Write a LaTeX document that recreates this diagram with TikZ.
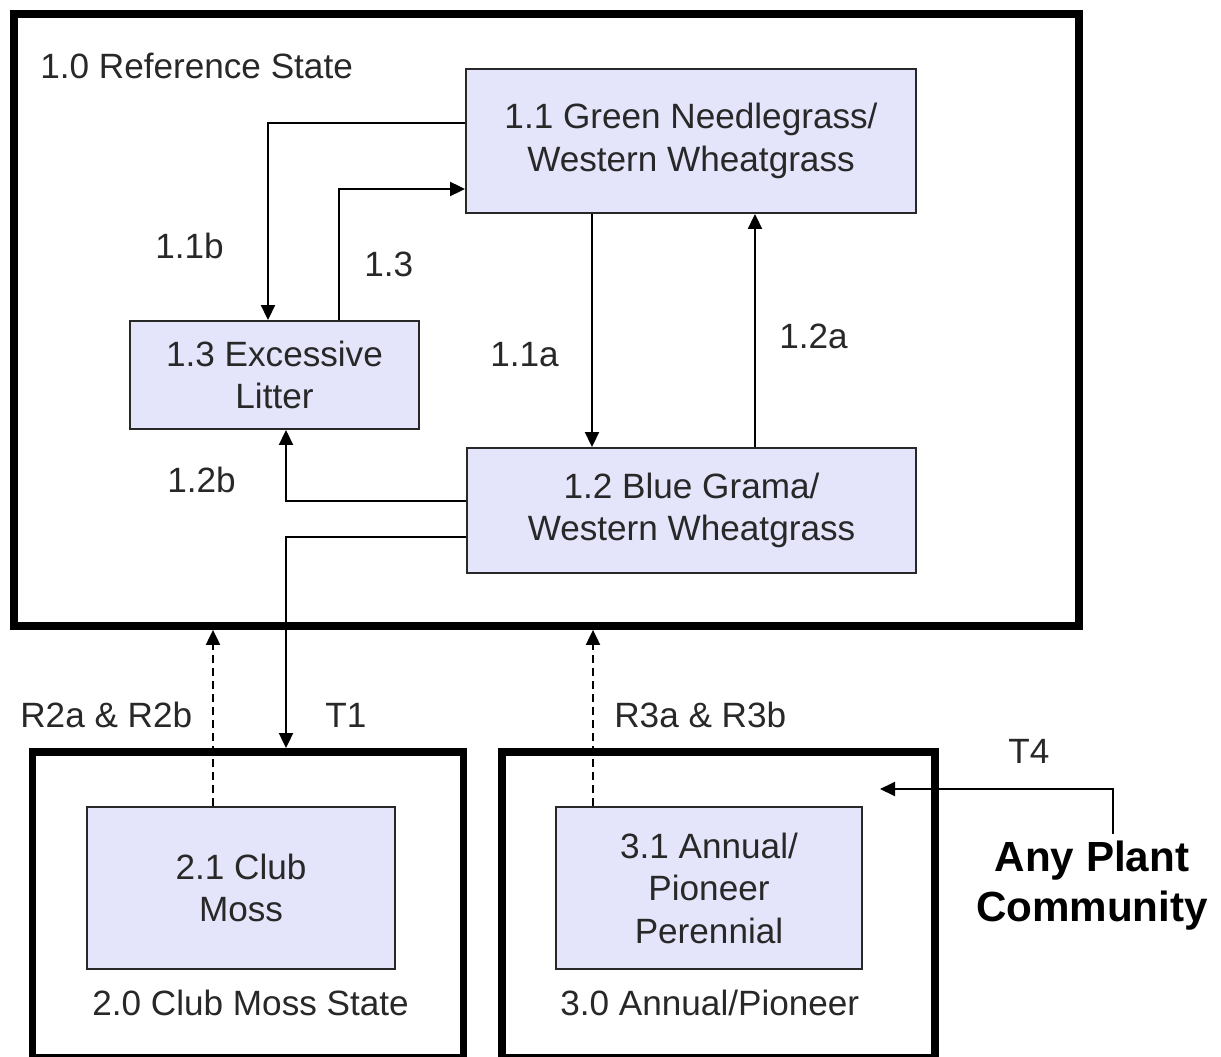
\documentclass[tikz,border=0pt]{standalone}
\usepackage{fontspec}
\setmainfont{Liberation Sans}
\usetikzlibrary{arrows.meta}
\definecolor{boxfill}{RGB}{228,228,250}
\definecolor{ink}{RGB}{40,40,40}
\begin{document}
\begin{tikzpicture}[x=0.02cm,y=-0.02cm,
  txt/.style={font=\fontsize{20}{24.2}\selectfont, text=ink},
  commbox/.style={draw=ink, line width=1.1pt, fill=boxfill, align=center, inner sep=0pt, txt},
  statebox/.style={draw=black, line width=4.5pt, inner sep=0pt},
  conn/.style={draw=black, line width=1.1pt, -{Triangle[length=0.3cm,width=0.28cm]}},
  dconn/.style={conn, dash pattern=on 0.16cm off 0.1cm},
  lbl/.style={txt, anchor=base west, inner sep=0pt},
  anyp/.style={font=\fontsize{24}{28.5}\selectfont\bfseries, align=center, inner sep=0.14cm},
]
\useasboundingbox[fill=white] (0,0) rectangle (1221,1057);

% state boxes
\node[statebox, minimum width=21.3cm, minimum height=12.24cm] (n10) at (546.5,320) {};
\node[statebox, minimum width=8.62cm, minimum height=6.12cm] (n20) at (248,905) {};
\node[statebox, minimum width=8.66cm, minimum height=6.12cm] (n30) at (718.5,905) {};

% community boxes
\node[commbox, minimum width=9cm, minimum height=2.88cm] (n11) at (691,141) {1.1 Green Needlegrass/\\Western Wheatgrass};
\node[commbox, minimum width=5.78cm, minimum height=2.16cm] (n13) at (274.5,375) {1.3 Excessive\\Litter};
\node[commbox, minimum width=8.98cm, minimum height=2.5cm] (n12) at (691.5,510.5) {1.2 Blue Grama/\\Western Wheatgrass};
\node[commbox, minimum width=6.16cm, minimum height=3.24cm] (n21) at (241,888) {2.1 Club\\Moss};
\node[commbox, minimum width=6.12cm, minimum height=3.24cm] (n31) at (709,888) {3.1 Annual/\\Pioneer\\Perennial};

\node[anyp] (any) at (1092,886) {Any Plant\\Community};
\coordinate (t4end) at (880,789);

% labels
\node[lbl] (l10) at (40,79) {1.0 Reference State};
\node[lbl] (l11b) at (155,259) {1.1b};
\node[lbl] (l13) at (364,277) {1.3};
\node[lbl] (l11a) at (490,367) {1.1a};
\node[lbl] (l12a) at (779,349) {1.2a};
\node[lbl] (l12b) at (167,493) {1.2b};
\node[lbl] (lr2) at (20,727) {R2a \& R2b};
\node[lbl] (lt1) at (325,727) {T1};
\node[lbl] (lr3) at (614,727) {R3a \& R3b};
\node[lbl] (lt4) at (1008,763) {T4};
\node[lbl] (l20) at (92,1015) {2.0 Club Moss State};
\node[lbl] (l30) at (560,1015) {3.0 Annual/Pioneer};

% connectors
\draw[conn] (n11.west |- 0,123) -| (n13.north -| 268,0);
\draw[conn] (n13.north -| 339,0) |- (n11.west |- 0,189);
\draw[conn] (n11.south -| 592,0) -- (n12.north -| 592,0);
\draw[conn] (n12.north -| 755,0) -- (n11.south -| 755,0);
\draw[conn] (n12.west |- 0,501) -| (n13.south -| 286,0);
\draw[conn] (n12.west |- 0,537) -| (n20.north -| 286,0);
\draw[dconn] (n21.north -| 213,0) -- (n10.south -| 213,0);
\draw[dconn] (n31.north -| 593,0) -- (n10.south -| 593,0);
\draw[conn] (any.north -| 1113,0) |- (t4end);
\end{tikzpicture}
\end{document}
